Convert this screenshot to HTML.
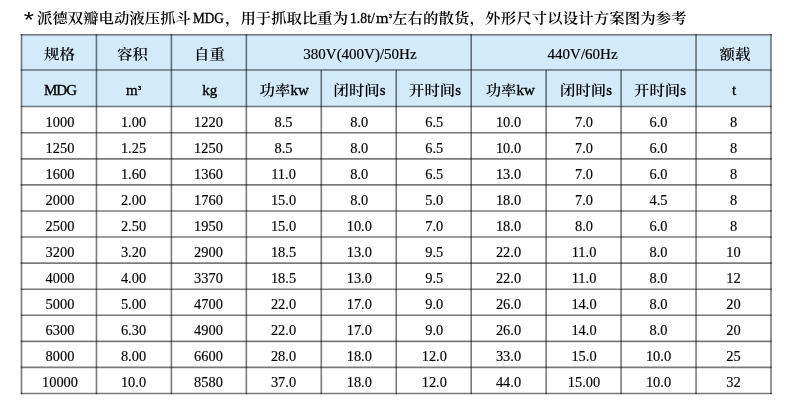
<!DOCTYPE html>
<html lang="zh"><head><meta charset="utf-8"><title>MDG</title>
<style>
html,body{margin:0;padding:0;background:#fff;}
body{width:800px;height:407px;position:relative;overflow:hidden;font-family:"Liberation Serif","Noto Serif CJK SC",serif;color:#000;}
svg{position:absolute;left:0;top:0;}
.t{position:absolute;top:5.9px;font-size:15.4px;line-height:24px;height:24px;white-space:nowrap;font-weight:600;transform:scaleY(.92);transform-origin:0 80%;}
.t.l{top:6.4px;font-size:15.6px;transform-origin:0 80%;transform:scaleX(.88);font-weight:400;-webkit-text-stroke:.35px #000;}
.c{position:absolute;width:120px;height:24px;line-height:24px;text-align:center;font-size:14.4px;white-space:nowrap;-webkit-text-stroke:.15px #000;}
.h{font-size:15px;-webkit-text-stroke:.2px #000;}
.h2{-webkit-text-stroke:.35px #000;}
.z{font-size:15.4px;font-weight:600;-webkit-text-stroke:0;display:inline-block;transform:scaleY(.92);transform-origin:50% 80%;}
sup{font-size:5.5px;line-height:0;vertical-align:5.2px;margin-left:.5px;-webkit-text-stroke:.5px #000;}
</style></head><body>

<svg width="800" height="407" viewBox="0 0 800 407">
<rect x="21.5" y="34.7" width="749.5" height="71.8" fill="#d3eafa"/>
<g stroke="rgba(0,0,0,.52)" stroke-width="1.6" fill="none">
<line x1="21.50" y1="33.90" x2="21.50" y2="394.27"/>
<line x1="96.45" y1="33.90" x2="96.45" y2="394.27"/>
<line x1="171.40" y1="33.90" x2="171.40" y2="394.27"/>
<line x1="246.35" y1="33.90" x2="246.35" y2="394.27"/>
<line x1="321.30" y1="70.00" x2="321.30" y2="394.27"/>
<line x1="396.25" y1="70.00" x2="396.25" y2="394.27"/>
<line x1="471.20" y1="33.90" x2="471.20" y2="394.27"/>
<line x1="546.15" y1="70.00" x2="546.15" y2="394.27"/>
<line x1="621.10" y1="70.00" x2="621.10" y2="394.27"/>
<line x1="696.05" y1="33.90" x2="696.05" y2="394.27"/>
<line x1="771.00" y1="33.90" x2="771.00" y2="394.27"/>
<line x1="20.70" y1="34.70" x2="771.80" y2="34.70"/>
<line x1="20.70" y1="70.00" x2="771.80" y2="70.00"/>
<line x1="20.70" y1="106.50" x2="771.80" y2="106.50"/>
<line x1="20.70" y1="132.77" x2="771.80" y2="132.77"/>
<line x1="20.70" y1="158.84" x2="771.80" y2="158.84"/>
<line x1="20.70" y1="184.91" x2="771.80" y2="184.91"/>
<line x1="20.70" y1="210.98" x2="771.80" y2="210.98"/>
<line x1="20.70" y1="237.05" x2="771.80" y2="237.05"/>
<line x1="20.70" y1="263.12" x2="771.80" y2="263.12"/>
<line x1="20.70" y1="289.19" x2="771.80" y2="289.19"/>
<line x1="20.70" y1="315.26" x2="771.80" y2="315.26"/>
<line x1="20.70" y1="341.33" x2="771.80" y2="341.33"/>
<line x1="20.70" y1="367.40" x2="771.80" y2="367.40"/>
<line x1="20.70" y1="393.47" x2="771.80" y2="393.47"/>
</g></svg>
<div class="t" style="left:23.7px;font-family:'Liberation Sans',sans-serif;font-size:26px;font-weight:400;top:7.3px;transform:scaleY(.87);transform-origin:0 50%">*</div>
<div class="t" style="left:37px">派德双瓣电动液压抓斗</div>
<div class="t l" style="left:193.2px;transform:scaleX(.85)">MDG</div>
<div class="t" style="left:225px">，用于抓取比重为</div>
<div class="t l" style="left:349.8px">1.8t/</div>
<div class="t l" style="left:376.2px;transform:scaleX(1.03)">m<sup>3</sup></div>
<div class="t" style="left:392px;letter-spacing:.13px">左右的散货，外形尺寸以设计方案图为参考</div>

<div class="c h" style="left:-0.50px;top:41.94px"><span class="z">规格</span></div>
<div class="c h" style="left:72.50px;top:41.94px"><span class="z">容积</span></div>
<div class="c h" style="left:149.50px;top:41.94px"><span class="z">自重</span></div>
<div class="c h" style="left:299.98px;top:41.94px">380V(400V)/50Hz</div>
<div class="c h" style="left:522.62px;top:41.94px">440V/60Hz</div>
<div class="c h" style="left:674.90px;top:41.94px"><span class="z">额载</span></div>
<div class="c h h2" style="left:0.00px;top:77.84px"><span style="letter-spacing:-1px">MDG</span></div>
<div class="c h h2" style="left:73.50px;top:77.84px">m<sup>3</sup></div>
<div class="c h h2" style="left:149.80px;top:77.84px">kg</div>
<div class="c h h2" style="left:224.20px;top:77.84px"><span class="z">功率</span>kw</div>
<div class="c h h2" style="left:299.50px;top:77.84px"><span class="z">闭时间</span>s</div>
<div class="c h h2" style="left:375.00px;top:77.84px"><span class="z">开时间</span>s</div>
<div class="c h h2" style="left:450.30px;top:77.84px"><span class="z">功率</span>kw</div>
<div class="c h h2" style="left:526.10px;top:77.84px"><span class="z">闭时间</span>s</div>
<div class="c h h2" style="left:600.00px;top:77.84px"><span class="z">开时间</span>s</div>
<div class="c h h2" style="left:674.10px;top:77.84px">t</div>
<div class="c " style="left:0.00px;top:110.14px">1000</div>
<div class="c " style="left:73.50px;top:110.14px">1.00</div>
<div class="c " style="left:148.50px;top:110.14px">1220</div>
<div class="c " style="left:223.50px;top:110.14px">8.5</div>
<div class="c " style="left:299.30px;top:110.14px">8.0</div>
<div class="c " style="left:374.30px;top:110.14px">6.5</div>
<div class="c " style="left:448.50px;top:110.14px">10.0</div>
<div class="c " style="left:524.00px;top:110.14px">7.0</div>
<div class="c " style="left:598.50px;top:110.14px">6.0</div>
<div class="c " style="left:673.50px;top:110.14px">8</div>
<div class="c " style="left:0.00px;top:136.14px">1250</div>
<div class="c " style="left:73.50px;top:136.14px">1.25</div>
<div class="c " style="left:148.50px;top:136.14px">1250</div>
<div class="c " style="left:223.50px;top:136.14px">8.5</div>
<div class="c " style="left:299.30px;top:136.14px">8.0</div>
<div class="c " style="left:374.30px;top:136.14px">6.5</div>
<div class="c " style="left:448.50px;top:136.14px">10.0</div>
<div class="c " style="left:524.00px;top:136.14px">7.0</div>
<div class="c " style="left:598.50px;top:136.14px">6.0</div>
<div class="c " style="left:673.50px;top:136.14px">8</div>
<div class="c " style="left:0.00px;top:162.14px">1600</div>
<div class="c " style="left:73.50px;top:162.14px">1.60</div>
<div class="c " style="left:148.50px;top:162.14px">1360</div>
<div class="c " style="left:223.50px;top:162.14px">11.0</div>
<div class="c " style="left:299.30px;top:162.14px">8.0</div>
<div class="c " style="left:374.30px;top:162.14px">6.5</div>
<div class="c " style="left:448.50px;top:162.14px">13.0</div>
<div class="c " style="left:524.00px;top:162.14px">7.0</div>
<div class="c " style="left:598.50px;top:162.14px">6.0</div>
<div class="c " style="left:673.50px;top:162.14px">8</div>
<div class="c " style="left:0.00px;top:188.14px">2000</div>
<div class="c " style="left:73.50px;top:188.14px">2.00</div>
<div class="c " style="left:148.50px;top:188.14px">1760</div>
<div class="c " style="left:223.50px;top:188.14px">15.0</div>
<div class="c " style="left:299.30px;top:188.14px">8.0</div>
<div class="c " style="left:374.30px;top:188.14px">5.0</div>
<div class="c " style="left:448.50px;top:188.14px">18.0</div>
<div class="c " style="left:524.00px;top:188.14px">7.0</div>
<div class="c " style="left:598.50px;top:188.14px">4.5</div>
<div class="c " style="left:673.50px;top:188.14px">8</div>
<div class="c " style="left:0.00px;top:214.14px">2500</div>
<div class="c " style="left:73.50px;top:214.14px">2.50</div>
<div class="c " style="left:148.50px;top:214.14px">1950</div>
<div class="c " style="left:223.50px;top:214.14px">15.0</div>
<div class="c " style="left:299.30px;top:214.14px">10.0</div>
<div class="c " style="left:374.30px;top:214.14px">7.0</div>
<div class="c " style="left:448.50px;top:214.14px">18.0</div>
<div class="c " style="left:524.00px;top:214.14px">8.0</div>
<div class="c " style="left:598.50px;top:214.14px">6.0</div>
<div class="c " style="left:673.50px;top:214.14px">8</div>
<div class="c " style="left:0.00px;top:240.14px">3200</div>
<div class="c " style="left:73.50px;top:240.14px">3.20</div>
<div class="c " style="left:148.50px;top:240.14px">2900</div>
<div class="c " style="left:223.50px;top:240.14px">18.5</div>
<div class="c " style="left:299.30px;top:240.14px">13.0</div>
<div class="c " style="left:374.30px;top:240.14px">9.5</div>
<div class="c " style="left:448.50px;top:240.14px">22.0</div>
<div class="c " style="left:524.00px;top:240.14px">11.0</div>
<div class="c " style="left:598.50px;top:240.14px">8.0</div>
<div class="c " style="left:673.50px;top:240.14px">10</div>
<div class="c " style="left:0.00px;top:266.14px">4000</div>
<div class="c " style="left:73.50px;top:266.14px">4.00</div>
<div class="c " style="left:148.50px;top:266.14px">3370</div>
<div class="c " style="left:223.50px;top:266.14px">18.5</div>
<div class="c " style="left:299.30px;top:266.14px">13.0</div>
<div class="c " style="left:374.30px;top:266.14px">9.5</div>
<div class="c " style="left:448.50px;top:266.14px">22.0</div>
<div class="c " style="left:524.00px;top:266.14px">11.0</div>
<div class="c " style="left:598.50px;top:266.14px">8.0</div>
<div class="c " style="left:673.50px;top:266.14px">12</div>
<div class="c " style="left:0.00px;top:292.14px">5000</div>
<div class="c " style="left:73.50px;top:292.14px">5.00</div>
<div class="c " style="left:148.50px;top:292.14px">4700</div>
<div class="c " style="left:223.50px;top:292.14px">22.0</div>
<div class="c " style="left:299.30px;top:292.14px">17.0</div>
<div class="c " style="left:374.30px;top:292.14px">9.0</div>
<div class="c " style="left:448.50px;top:292.14px">26.0</div>
<div class="c " style="left:524.00px;top:292.14px">14.0</div>
<div class="c " style="left:598.50px;top:292.14px">8.0</div>
<div class="c " style="left:673.50px;top:292.14px">20</div>
<div class="c " style="left:0.00px;top:318.14px">6300</div>
<div class="c " style="left:73.50px;top:318.14px">6.30</div>
<div class="c " style="left:148.50px;top:318.14px">4900</div>
<div class="c " style="left:223.50px;top:318.14px">22.0</div>
<div class="c " style="left:299.30px;top:318.14px">17.0</div>
<div class="c " style="left:374.30px;top:318.14px">9.0</div>
<div class="c " style="left:448.50px;top:318.14px">26.0</div>
<div class="c " style="left:524.00px;top:318.14px">14.0</div>
<div class="c " style="left:598.50px;top:318.14px">8.0</div>
<div class="c " style="left:673.50px;top:318.14px">20</div>
<div class="c " style="left:0.00px;top:344.14px">8000</div>
<div class="c " style="left:73.50px;top:344.14px">8.00</div>
<div class="c " style="left:148.50px;top:344.14px">6600</div>
<div class="c " style="left:223.50px;top:344.14px">28.0</div>
<div class="c " style="left:299.30px;top:344.14px">18.0</div>
<div class="c " style="left:374.30px;top:344.14px">12.0</div>
<div class="c " style="left:448.50px;top:344.14px">33.0</div>
<div class="c " style="left:524.00px;top:344.14px">15.0</div>
<div class="c " style="left:598.50px;top:344.14px">10.0</div>
<div class="c " style="left:673.50px;top:344.14px">25</div>
<div class="c " style="left:0.00px;top:370.14px">10000</div>
<div class="c " style="left:73.50px;top:370.14px">10.0</div>
<div class="c " style="left:148.50px;top:370.14px">8580</div>
<div class="c " style="left:223.50px;top:370.14px">37.0</div>
<div class="c " style="left:299.30px;top:370.14px">18.0</div>
<div class="c " style="left:374.30px;top:370.14px">12.0</div>
<div class="c " style="left:448.50px;top:370.14px">44.0</div>
<div class="c " style="left:524.00px;top:370.14px">15.00</div>
<div class="c " style="left:598.50px;top:370.14px">10.0</div>
<div class="c " style="left:673.50px;top:370.14px">32</div>
</body></html>
